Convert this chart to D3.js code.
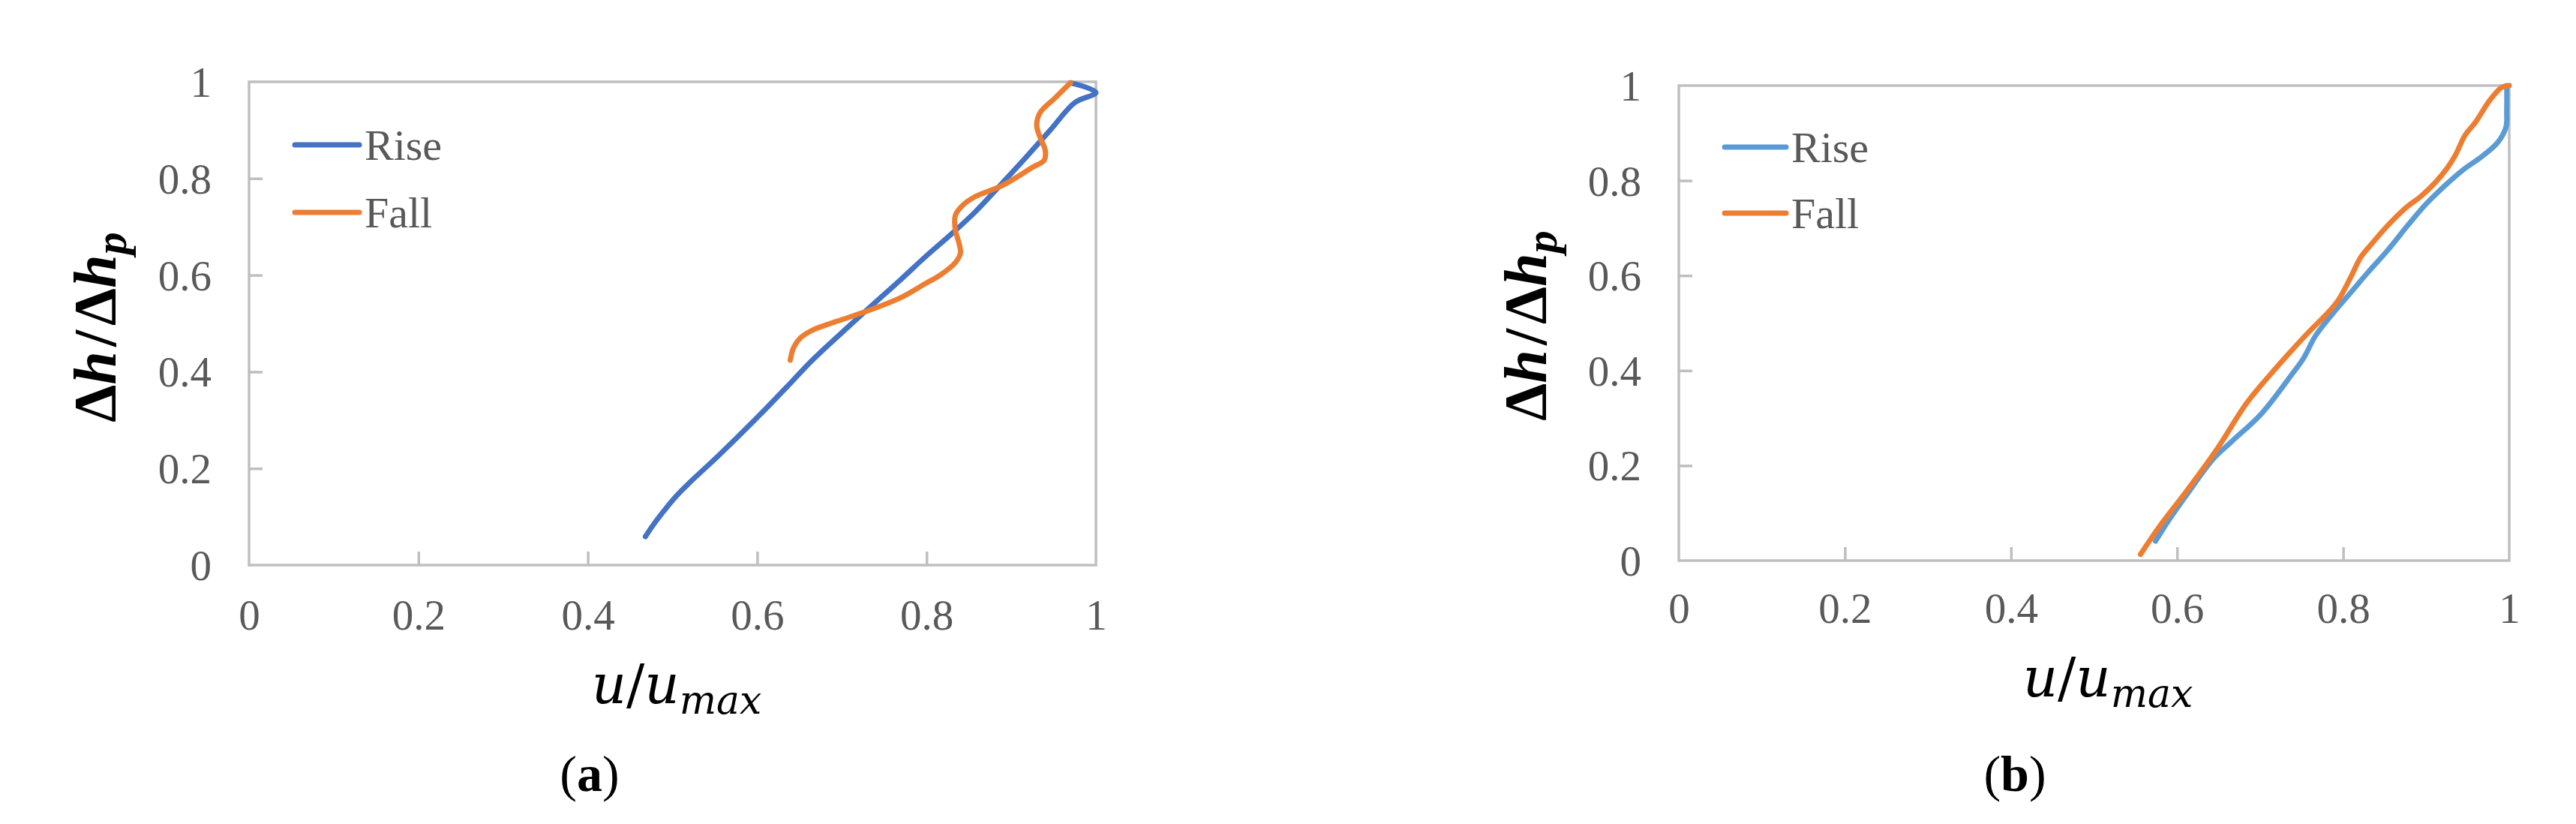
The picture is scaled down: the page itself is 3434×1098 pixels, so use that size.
<!DOCTYPE html>
<html>
<head>
<meta charset="utf-8">
<script src="https://cdn.jsdelivr.net/npm/d3@7"></script>
<style>
  html, body { margin: 0; padding: 0; background: #fff; }
  svg { display: block; }
</style>
</head>
<body>
<svg id="chart" width="3434" height="1098"></svg>
<script>
// ---------- data ----------
const tickValues = [0, 0.2, 0.4, 0.6, 0.8, 1];
const tickLabels = ["0", "0.2", "0.4", "0.6", "0.8", "1"];
const seriesNames = ["Rise", "Fall"];
const panelLabels = ["(a)", "(b)"];

// panel (a) : [u/umax, Δh/Δhp]
const riseA = [[0.468,0.059],[0.476,0.080],[0.488,0.108],[0.503,0.140],[0.521,0.172],[0.554,0.226],[0.597,0.300],[0.639,0.376],[0.665,0.424],[0.710,0.497],[0.739,0.543],[0.769,0.590],[0.798,0.637],[0.828,0.683],[0.857,0.730],[0.887,0.786],[0.917,0.843],[0.946,0.900],[0.975,0.957],[1.000,0.978],[0.970,0.998]];
const fallA = [[0.639,0.424],[0.643,0.450],[0.651,0.470],[0.665,0.486],[0.695,0.505],[0.724,0.522],[0.769,0.553],[0.798,0.582],[0.816,0.600],[0.834,0.626],[0.840,0.646],[0.838,0.668],[0.834,0.693],[0.834,0.724],[0.843,0.745],[0.857,0.762],[0.890,0.786],[0.925,0.823],[0.939,0.838],[0.940,0.859],[0.934,0.885],[0.930,0.910],[0.934,0.936],[0.952,0.967],[0.970,0.998]];

// panel (b)
const riseB = [[0.574,0.041],[0.590,0.085],[0.613,0.142],[0.644,0.215],[0.666,0.251],[0.702,0.310],[0.737,0.389],[0.752,0.425],[0.767,0.474],[0.788,0.521],[0.809,0.564],[0.830,0.607],[0.854,0.654],[0.878,0.706],[0.899,0.749],[0.923,0.790],[0.944,0.822],[0.965,0.848],[0.986,0.880],[0.996,0.912],[0.997,0.948],[0.997,1.000]];
const fallB = [[0.556,0.013],[0.578,0.070],[0.613,0.150],[0.649,0.237],[0.684,0.332],[0.719,0.405],[0.758,0.480],[0.779,0.517],[0.794,0.548],[0.809,0.596],[0.821,0.638],[0.833,0.664],[0.854,0.706],[0.875,0.742],[0.893,0.766],[0.911,0.796],[0.926,0.828],[0.935,0.853],[0.947,0.896],[0.959,0.922],[0.977,0.970],[0.991,0.996],[1.000,1.000]];

// ---------- layout ----------
const panels = [
  { x0: 332, x1: 1461, y0: 109, y1: 753, rise: riseA, fall: fallA,
    colors: ["#4472C4", "#ED7D31"], label: panelLabels[0],
    ylabX: 154, ylabY: 436, xlabX: 902, xlabY: 937, capX: 786, xtickGap: 86,
    legX: 393, legW: 86, legY: [193, 283] },
  { x0: 2238, x1: 3345, y0: 114, y1: 747, rise: riseB, fall: fallB,
    colors: ["#5B9BD5", "#ED7D31"], label: panelLabels[1],
    ylabX: 2061, ylabY: 434, xlabX: 2810, xlabY: 928, capX: 2686, xtickGap: 83,
    legX: 2299, legW: 82, legY: [196, 284] }
];

const svg = d3.select("#chart");
const axisColor = "#BFBFBF";
const textColor = "#595959";
const serif = "'Liberation Serif', 'Times New Roman', serif";

panels.forEach(p => {
  const x = d3.scaleLinear().domain([0, 1]).range([p.x0, p.x1]);
  const y = d3.scaleLinear().domain([0, 1]).range([p.y1, p.y0]);
  const g = svg.append("g");

  // frame
  g.append("rect")
    .attr("x", p.x0).attr("y", p.y0)
    .attr("width", p.x1 - p.x0).attr("height", p.y1 - p.y0)
    .attr("fill", "none").attr("stroke", axisColor).attr("stroke-width", 3.5);

  // x axis
  const xAxis = d3.axisBottom(x).tickValues(tickValues)
    .tickFormat((d, i) => tickLabels[i]).tickSizeInner(-18).tickSizeOuter(0).tickPadding(0);
  const gx = g.append("g").attr("transform", `translate(0,${p.y1})`).call(xAxis);
  gx.select(".domain").remove();
  gx.selectAll(".tick line").attr("stroke", axisColor).attr("stroke-width", 3.5)
    .filter(d => d === 0 || d === 1).remove();
  gx.selectAll(".tick text").attr("fill", textColor)
    .attr("font-family", serif).attr("font-size", 57)
    .attr("y", p.xtickGap).attr("dy", 0);

  // y axis
  const yAxis = d3.axisLeft(y).tickValues(tickValues)
    .tickFormat((d, i) => tickLabels[i]).tickSizeInner(-18).tickSizeOuter(0).tickPadding(0);
  const gy = g.append("g").attr("transform", `translate(${p.x0},0)`).call(yAxis);
  gy.select(".domain").remove();
  gy.selectAll(".tick line").attr("stroke", axisColor).attr("stroke-width", 3.5)
    .filter(d => d === 0 || d === 1).remove();
  gy.selectAll(".tick text").attr("fill", textColor)
    .attr("font-family", serif).attr("font-size", 57)
    .attr("x", -50).attr("dy", 19.5).attr("text-anchor", "end");

  // lines
  const line = d3.line().x(d => x(d[0])).y(d => y(d[1]))
    .curve(d3.curveCatmullRom.alpha(0.5));
  [p.rise, p.fall].forEach((data, i) => {
    g.append("path").datum(data)
      .attr("d", line)
      .attr("fill", "none")
      .attr("stroke", p.colors[i])
      .attr("stroke-width", 7)
      .attr("stroke-linecap", "round")
      .attr("stroke-linejoin", "round");
  });

  // legend
  seriesNames.forEach((name, i) => {
    g.append("line")
      .attr("x1", p.legX).attr("x2", p.legX + p.legW)
      .attr("y1", p.legY[i]).attr("y2", p.legY[i])
      .attr("stroke", p.colors[i]).attr("stroke-width", 7).attr("stroke-linecap", "round");
    g.append("text")
      .attr("x", p.legX + p.legW + 7).attr("y", p.legY[i] + 20)
      .attr("fill", textColor).attr("font-family", serif).attr("font-size", 58)
      .text(name);
  });

  // y label  Δh/Δh_p
  const yl = g.append("text")
    .attr("transform", `translate(${p.ylabX},${p.ylabY}) rotate(-90)`)
    .attr("text-anchor", "middle")
    .attr("font-family", serif).attr("font-size", 80)
    .attr("font-weight", "bold").attr("fill", "#000");
  yl.append("tspan").text("Δ");
  yl.append("tspan").attr("font-style", "italic").text("h");
  yl.append("tspan").attr("dx", 6).text("/");
  yl.append("tspan").attr("dx", 6).text("Δ");
  yl.append("tspan").attr("font-style", "italic").text("h");
  yl.append("tspan").attr("font-style", "italic").attr("font-size", 60).attr("dy", 14).text("p");

  // x label  u/u_max
  const xl = g.append("text")
    .attr("x", p.xlabX).attr("y", p.xlabY)
    .attr("text-anchor", "middle")
    .attr("font-family", "'DejaVu Serif', serif").attr("font-size", 72)
    .attr("font-style", "italic").attr("fill", "#000");
  xl.append("tspan").text("u");
  xl.append("tspan").attr("font-style", "normal").text("/");
  xl.append("tspan").text("u");
  xl.append("tspan").attr("font-size", 52).attr("dy", 14).text("max");

  // caption
  const cap = g.append("text")
    .attr("x", p.capX).attr("y", 1054)
    .attr("text-anchor", "middle")
    .attr("font-family", serif).attr("font-size", 68).attr("fill", "#000");
  cap.append("tspan").text("(");
  cap.append("tspan").attr("font-weight", "bold").text(p.label.slice(1, 2));
  cap.append("tspan").text(")");
});
</script>
</body>
</html>
